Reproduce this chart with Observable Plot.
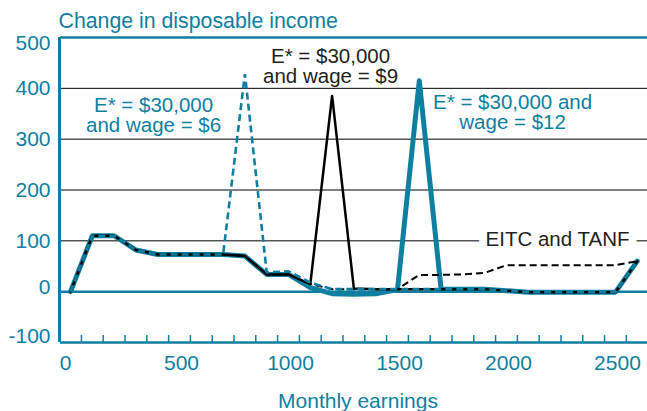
<!DOCTYPE html>
<html>
<head>
<meta charset="utf-8">
<script src="https://cdn.jsdelivr.net/npm/d3@7"></script>
<script src="https://cdn.jsdelivr.net/npm/@observablehq/plot@0.6"></script>
<style>
  body { margin: 0; background: #fff; }
  #chart svg { display: block; }
</style>
</head>
<body>
<div id="chart"></div>
<script>
// ---- data ----
const earnings = [0,100,200,300,400,500,600,700,800,900,1000,1100,1200,1300,1400,1500,1600,1700,1800,1900,2000,2100,2200,2300,2400,2500,2600];
const wage12   = [0,110,110,82,73,73,73,73,70,34,34,8,-4,-5,-4,4,415,5,5,5,2,-1,-1,-1,-1,-1,60];
const wage9    = [0,110,110,82,73,73,73,73,70,34,34,15,385,6,5,5,5,5,5,5,2,-1,-1,-1,-1,-1,60];
const wage6    = [0,110,110,82,73,73,73,73,428,38,40,18,5,5,5,5,5,5,5,5,2,-1,-1,-1,-1,-1,60];
const eitcTanf = [0,110,110,82,73,73,73,73,70,34,34,15,5,5,5,5,33,33,34,37,52,52,52,52,52,52,60];

const yTicksMid = [100, 200, 300, 400];
const yTickTop = [500];
const yTickZero = [0];
const yTickBottom = [-100];
const gridValues = [100, 200, 300, 400];
const xTickLabels = [500, 1000, 1500, 2000, 2500];
const xTickZero = [0];
const xTickMarks = [50,150,250,350,450,550,650,750,850,950,1050,1150,1250,1350,1450,1550,1650,1750,1850,1950,2050,2150,2250,2350,2450,2550];

const noteLine1 = ["E* = $30,000", "E* = $30,000", "E* = $30,000 and"];
const noteLine2 = ["and wage = $6", "and wage = $9", "wage = $12"];
const noteX = [381, 1193, 2028];
const noteY = [348, 444, 353];
const eitcLabel = "EITC and TANF";
const eitcX = 1904, eitcY = 102;

const title = "Change in disposable income";
const xTitle = "Monthly earnings";

// ---- styles ----
const TEAL = "#0f7fa1";
const INK = "#231f20";
const FONT = "Liberation Sans, Arial, Helvetica, sans-serif";

const rows = arr => earnings.map((e, i) => ({x: e, y: arr[i]}));
const notes1 = noteLine1.map((t, i) => ({text: t, x: noteX[i], y: noteY[i], c: i === 1 ? INK : TEAL}));
const notes2 = noteLine2.map((t, i) => ({text: t, x: noteX[i], y: noteY[i], c: i === 1 ? INK : TEAL}));

const tickLabel = (data, dx, dy) => Plot.text(data, {y: d => d, text: d => String(d), frameAnchor: "left",
  dx, dy, textAnchor: "end", fill: TEAL, fontSize: 21});

const chart = Plot.plot({
  width: 647,
  height: 411,
  marginTop: 37,
  marginBottom: 69,
  marginLeft: 60,
  marginRight: 0,
  style: {fontFamily: FONT, background: "#fff", overflow: "visible"},
  x: {domain: [-46, 2647], axis: null},
  y: {domain: [-100, 500], axis: null},
  marks: [
    Plot.ruleY(gridValues, {stroke: "#000", strokeWidth: 1}),
    Plot.text([eitcLabel], {x: eitcX, y: eitcY, text: d => d, textAnchor: "start", fill: INK,
      stroke: "#fff", strokeWidth: 16, fontSize: 20.5, lineAnchor: "middle"}),
    Plot.ruleY([0], {stroke: TEAL, strokeWidth: 2.5}),
    Plot.ruleY([500], {stroke: TEAL, strokeWidth: 2.5}),
    Plot.ruleY([-100], {stroke: TEAL, strokeWidth: 2.5}),
    Plot.ruleX([-46], {stroke: TEAL, strokeWidth: 3, dx: -1}),
    Plot.ruleX(xTickMarks, {x: d => d, insetTop: 298, stroke: TEAL, strokeWidth: 1.5}),
    Plot.line(rows(wage12), {x: "x", y: "y", stroke: TEAL, strokeWidth: 5}),
    Plot.line(rows(wage9), {x: "x", y: "y", stroke: "#000", strokeWidth: 2.5}),
    Plot.line(rows(eitcTanf), {x: "x", y: "y", stroke: "#000", strokeWidth: 2, strokeDasharray: "7,4", strokeLinecap: "butt", strokeLinejoin: "miter"}),
    Plot.line(rows(wage6), {x: "x", y: "y", stroke: TEAL, strokeWidth: 2.6, strokeDasharray: "7,4", strokeLinecap: "butt", strokeLinejoin: "miter"}),
    Plot.text(notes1, {x: "x", y: "y", text: "text", fill: "c", fontSize: 20.5, textAnchor: "middle", lineAnchor: "bottom", dy: -3}),
    Plot.text(notes2, {x: "x", y: "y", text: "text", fill: "c", fontSize: 20.5, textAnchor: "middle", lineAnchor: "bottom", dy: 17}),
    tickLabel(yTicksMid, -10, 0),
    tickLabel(yTickTop, -10, 6),
    tickLabel(yTickZero, -10, -4),
    tickLabel(yTickBottom, -10, -6),
    Plot.text(xTickLabels, {x: d => d, text: d => String(d), frameAnchor: "bottom", dy: 21, dx: 2, fill: TEAL, fontSize: 21, lineAnchor: "middle"}),
    Plot.text(xTickZero, {x: d => d, text: d => String(d), frameAnchor: "bottom", dy: 21, dx: -5, fill: TEAL, fontSize: 21, lineAnchor: "middle"}),
    Plot.text([title], {text: d => d, frameAnchor: "top-left", dx: -2, dy: -10, textAnchor: "start", lineAnchor: "bottom", fill: TEAL, fontSize: 21.3}),
    Plot.text([xTitle], {text: d => d, frameAnchor: "bottom", dy: 65, lineAnchor: "bottom", fill: TEAL, fontSize: 21, dx: 4})
  ]
});

document.getElementById("chart").append(chart);
</script>
</body>
</html>
